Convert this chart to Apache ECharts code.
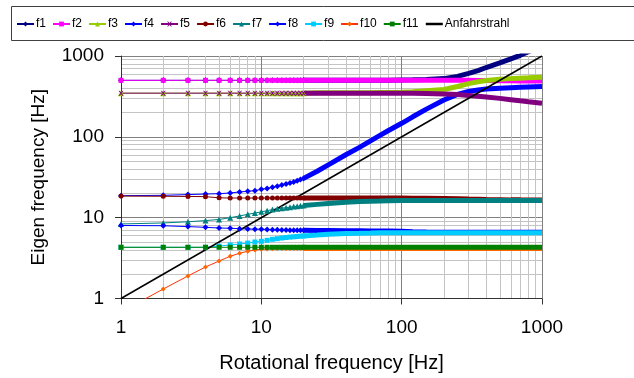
<!DOCTYPE html>
<html>
<head>
<meta charset="utf-8">
<script src="https://cdn.jsdelivr.net/npm/echarts@6/dist/echarts.min.js"></script>
<style>
  html, body { margin: 0; padding: 0; background: #fff; }
  #chart { width: 634px; height: 378px; }
</style>
</head>
<body>
<div id="chart"></div>
<script>
// rotational frequency [Hz] at which the eigenfrequencies were read
const xs = [1, 2, 3, 4, 5, 6, 7, 8, 9, 10, 11, 12, 13, 14, 15, 16, 17, 18, 19, 20,
  25, 30, 40, 50, 60, 70, 80, 100, 120, 150, 200, 250, 300, 350, 400, 500, 600, 700, 800, 1000];

const f1 = [500, 500, 500, 500, 500, 500, 500, 500, 500, 500, 500, 500, 500, 500, 500, 500, 500, 500, 500, 500,
  500, 500, 500, 500, 500, 500, 500, 505, 508, 512, 525, 560, 610, 660, 720, 820, 920, 1020, 1130, 1350];
const f2 = [500, 500, 500, 500, 500, 500, 500, 500, 500, 500, 500, 500, 500, 500, 500, 500, 500, 500, 500, 500,
  500, 500, 500, 500, 500, 500, 500, 500, 500, 500, 500, 500, 500, 499, 497, 495, 493, 492, 491, 490];
const f3 = [347, 347, 347, 347, 347, 347, 347, 347, 347, 347, 347, 347, 347, 347, 347, 347, 347, 347, 347, 347,
  350, 352, 352, 352, 352, 353, 353, 355, 362, 372, 385, 420, 455, 480, 498, 515, 525, 532, 537, 547];
const f4 = [18.7, 18.9, 19.3, 19.6, 19.8, 20.2, 20.8, 21.2, 21.6, 22.4, 23.0, 23.8, 24.5, 25.3, 26.1, 26.9, 27.7, 28.6, 29.6, 30.6,
  37.5, 45, 60, 74, 89, 104, 119, 147, 177, 220, 285, 335, 365, 380, 390, 400, 406, 410, 413, 418];
const f5 = [347, 347, 347, 347, 347, 347, 347, 347, 347, 347, 347, 347, 347, 347, 347, 347, 347, 347, 347, 347,
  346, 346, 346, 346, 346, 346, 346, 346, 345, 343, 339, 333, 325, 318, 311, 299, 288, 279, 272, 261];
const f6 = [18.5, 18.4, 18.3, 18.2, 17.6, 17.5, 17.5, 17.5, 17.5, 17.5, 17.5, 17.5, 17.5, 17.5, 17.5, 17.5, 17.5, 17.5, 17.5, 17.5,
  17.5, 17.5, 17.5, 17.5, 17.5, 17.5, 17.5, 17.5, 17.4, 17.4, 17.3, 17.2, 17.0, 16.9, 16.8, 16.7, 16.6, 16.6, 16.5, 16.5];
const f7 = [8.36, 8.6, 8.9, 9.2, 9.5, 10.0, 10.5, 11.0, 11.4, 11.8, 12.2, 12.6, 12.9, 13.1, 13.3, 13.5, 13.7, 13.8, 14.0, 14.1,
  14.6, 15.0, 15.5, 15.8, 16.0, 16.1, 16.2, 16.3, 16.3, 16.3, 16.3, 16.3, 16.3, 16.3, 16.3, 16.3, 16.3, 16.3, 16.3, 16.3];
const f8 = [8.0, 7.95, 7.75, 7.6, 7.45, 7.4, 7.3, 7.25, 7.2, 7.2, 7.15, 7.1, 7.1, 7.05, 7.05, 7.0, 7.0, 7.0, 7.0, 7.0,
  6.95, 6.95, 6.9, 6.9, 6.85, 6.85, 6.85, 6.8, 6.7, 6.65, 6.6, 6.6, 6.6, 6.6, 6.6, 6.6, 6.6, 6.6, 6.6, 6.6];
const f9 = [4.3, 4.3, 4.3, 4.3, 4.45, 4.6, 4.72, 4.85, 5.0, 5.1, 5.25, 5.4, 5.5, 5.6, 5.68, 5.75, 5.8, 5.85, 5.9, 5.95,
  6.1, 6.25, 6.35, 6.4, 6.45, 6.5, 6.5, 6.5, 6.5, 6.5, 6.5, 6.5, 6.5, 6.5, 6.5, 6.5, 6.5, 6.5, 6.5, 6.5];
const f10 = [0.68, 1.31, 1.9, 2.45, 2.91, 3.33, 3.63, 3.84, 3.98, 4.06, 4.1, 4.13, 4.15, 4.15, 4.15, 4.15, 4.15, 4.15, 4.15, 4.15,
  4.15, 4.15, 4.15, 4.15, 4.15, 4.15, 4.15, 4.15, 4.15, 4.15, 4.15, 4.15, 4.15, 4.15, 4.15, 4.15, 4.15, 4.15, 4.15, 4.15];
const f11 = [4.3, 4.3, 4.3, 4.3, 4.3, 4.3, 4.3, 4.3, 4.3, 4.3, 4.3, 4.3, 4.3, 4.3, 4.3, 4.3, 4.3, 4.3, 4.3, 4.3,
  4.3, 4.3, 4.3, 4.3, 4.3, 4.3, 4.3, 4.3, 4.3, 4.3, 4.3, 4.3, 4.3, 4.3, 4.3, 4.3, 4.3, 4.3, 4.3, 4.3];

// Anfahrstrahl: f = n
const rampX = [1, 1000];
const rampY = [1, 1000];

const xTicks = [1, 10, 100, 1000];
const yTicks = [1, 10, 100, 1000];

const FONT = 'Liberation Sans, Arial, sans-serif';
const X_MARK = 'path://M0,0L2,0L5,3L8,0L10,0L6,5L10,10L8,10L5,7L2,10L0,10L4,5Z';

const modes = [
  { name: 'f1', data: f1, color: '#000080', symbol: 'diamond', size: 6 },
  { name: 'f2', data: f2, color: '#FF00FF', symbol: 'rect', size: 5 },
  { name: 'f3', data: f3, color: '#99CC00', symbol: 'triangle', size: 6 },
  { name: 'f4', data: f4, color: '#0000FF', symbol: 'diamond', size: 6 },
  { name: 'f5', data: f5, color: '#800080', symbol: X_MARK, size: 5 },
  { name: 'f6', data: f6, color: '#800000', symbol: 'circle', size: 5 },
  { name: 'f7', data: f7, color: '#008080', symbol: 'triangle', size: 6 },
  { name: 'f8', data: f8, color: '#0000FF', symbol: 'diamond', size: 6 },
  { name: 'f9', data: f9, color: '#00CCFF', symbol: 'rect', size: 5 },
  { name: 'f10', data: f10, color: '#FF3300', symbol: 'diamond', size: 5, mark: '#FF6600' },
  { name: 'f11', data: f11, color: '#008000', symbol: 'rect', size: 5 }
];

// below ~20 Hz every reading shows as a marker, above it the markers merge into a band
const series = [];
modes.forEach(m => {
  const pts = xs.map((x, i) => [x, m.data[i]]);
  series.push({
    name: m.name, type: 'line', data: pts.filter(p => p[0] <= 20),
    symbol: m.symbol, symbolSize: m.size, showAllSymbol: true,
    lineStyle: { color: m.color, width: 1 },
    itemStyle: { color: m.mark || m.color },
    animation: false
  });
  series.push({
    name: m.name, type: 'line', data: pts.filter(p => p[0] >= 20),
    showSymbol: false, symbol: 'none',
    lineStyle: { color: m.mark || m.color, width: 5 },
    itemStyle: { color: m.mark || m.color },
    animation: false
  });
});
series.push({
  name: 'Anfahrstrahl', type: 'line',
  data: rampX.map((x, i) => [x, rampY[i]]),
  symbol: 'none', lineStyle: { color: '#000', width: 1.5 },
  itemStyle: { color: '#000' },
  animation: false
});

const chart = echarts.init(document.getElementById('chart'), null, { renderer: 'canvas' });

chart.setOption({
  backgroundColor: '#fff',
  animation: false,
  textStyle: { fontFamily: FONT },
  grid: { left: 121, right: 92, top: 56, bottom: 79.5, containLabel: false, outerBoundsMode: 'none' },
  legend: {
    data: modes.map(m => m.name).concat([
      { name: 'Anfahrstrahl', itemStyle: { opacity: 0 }, lineStyle: { width: 2.5 } }
    ]),
    left: 16, top: 18, padding: 0,
    itemWidth: 17, itemHeight: 6, itemGap: 6,
    textStyle: { fontSize: 12, color: '#000', fontFamily: FONT, padding: [0, 0, 0, -3] }
  },
  graphic: [{
    type: 'rect', silent: true, z: -1,
    shape: { x: 11.5, y: 6.5, width: 700, height: 34 },
    style: { fill: '#fff', stroke: '#404040', lineWidth: 1 }
  }],
  xAxis: {
    type: 'log', logBase: 10, min: xTicks[0], max: xTicks[xTicks.length - 1],
    name: 'Rotational frequency [Hz]', nameLocation: 'middle', nameGap: 55,
    nameTextStyle: { fontSize: 20, color: '#000', fontFamily: FONT },
    axisLine: { show: true, lineStyle: { color: '#333', width: 1 } },
    axisTick: { show: true, length: 6, lineStyle: { color: '#333' } },
    axisLabel: { fontSize: 19, color: '#000', margin: 20, fontFamily: FONT, formatter: v => String(v) },
    splitLine: { show: true, lineStyle: { color: '#808080', width: 1 } },
    minorTick: { show: false, splitNumber: 9 },
    minorSplitLine: { show: true, lineStyle: { color: '#c4c4c4', width: 1 } }
  },
  yAxis: {
    type: 'log', logBase: 10, min: yTicks[0], max: yTicks[yTicks.length - 1],
    name: 'Eigen frequency [Hz]', nameLocation: 'middle', nameGap: 73,
    nameTextStyle: { fontSize: 19, color: '#000', fontFamily: FONT },
    axisLine: { show: true, lineStyle: { color: '#333', width: 1 } },
    axisTick: { show: true, length: 6, lineStyle: { color: '#333' } },
    axisLabel: { fontSize: 19, color: '#000', margin: 17, fontFamily: FONT, formatter: v => String(v) },
    splitLine: { show: true, lineStyle: { color: '#808080', width: 1 } },
    minorTick: { show: false, splitNumber: 9 },
    minorSplitLine: { show: true, lineStyle: { color: '#c4c4c4', width: 1 } }
  },
  series: series
});
</script>
</body>
</html>
